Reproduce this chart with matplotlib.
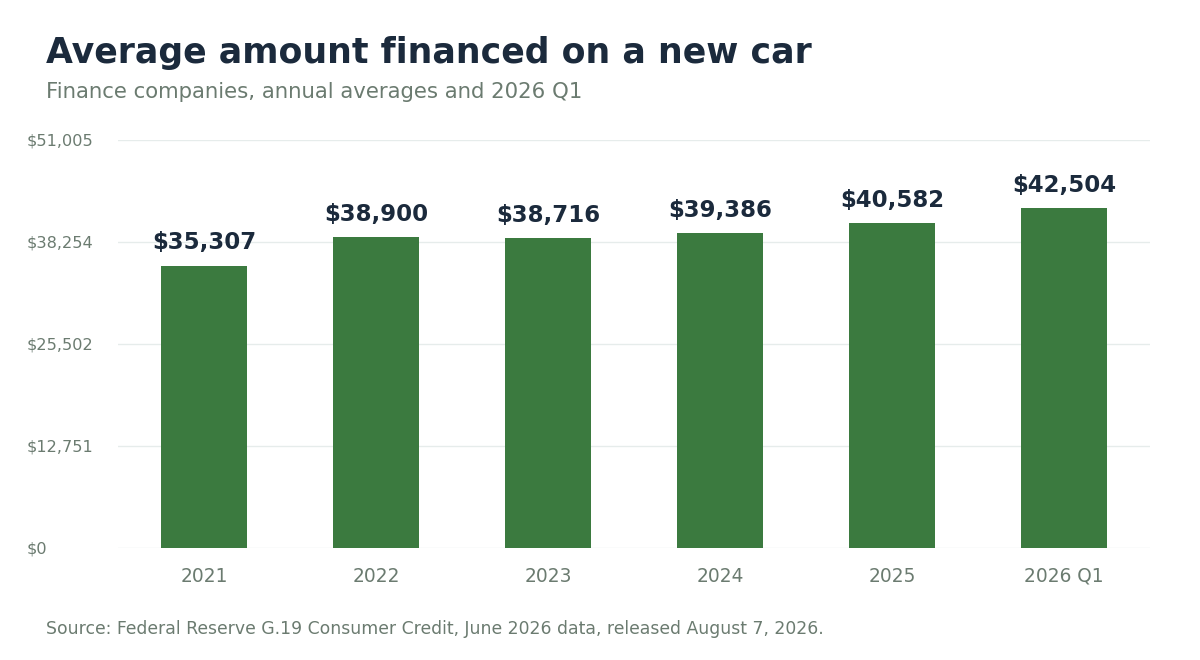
import matplotlib
matplotlib.use("Agg")
import matplotlib.pyplot as plt
from matplotlib.ticker import FixedLocator, FuncFormatter

years = ["2021", "2022", "2023", "2024", "2025", "2026 Q1"]
amounts = [35307, 38900, 38716, 39386, 40582, 42504]
tick_values = [0, 12751, 25502, 38254, 51005]

navy = "#1b2a3c"
grey = "#6b7b70"
green = "#3b7a3f"
grid_col = "#e6eceb"

plt.rcParams["font.family"] = ["DejaVu Sans"]

fig = plt.figure(figsize=(12, 6.6), dpi=100)
ax = fig.add_axes([0.0983, 0.1697, 0.86, 0.6182])

x = range(len(years))
ax.bar(x, amounts, width=0.495, color=green, zorder=2)
for xi, v in zip(x, amounts):
    ax.annotate(f"${v:,}", (xi, v), xytext=(0, 8), textcoords="offset points",
                ha="center", va="bottom", fontsize=16.5, fontweight="bold", color=navy)

ax.set_xlim(-0.5, len(years) - 0.5)
ax.set_ylim(0, tick_values[-1])
ax.yaxis.set_major_locator(FixedLocator(tick_values))
ax.yaxis.set_major_formatter(FuncFormatter(lambda v, p: f"${v:,.0f}"))
ax.set_xticks(list(x))
ax.set_xticklabels(years)
ax.tick_params(axis="y", length=0, labelsize=11.6, labelcolor=grey, pad=66)
ax.tick_params(axis="x", length=0, labelsize=13.4, labelcolor=grey, pad=13.5)
for lbl in ax.get_yticklabels():
    lbl.set_horizontalalignment("left")
ax.grid(axis="y", color=grid_col, linewidth=1, zorder=0)
for s in ax.spines.values():
    s.set_visible(False)

fig.text(0.038, 0.920, "Average amount financed on a new car", fontsize=25,
         fontweight="bold", color=navy, va="center")
fig.text(0.038, 0.860, "Finance companies, annual averages and 2026 Q1",
         fontsize=15.3, color=grey, va="center")
fig.text(0.038, 0.047, "Source: Federal Reserve G.19 Consumer Credit, June 2026 data, released August 7, 2026.",
         fontsize=12.4, color=grey, va="center")

fig.savefig("out.png", dpi=100)
